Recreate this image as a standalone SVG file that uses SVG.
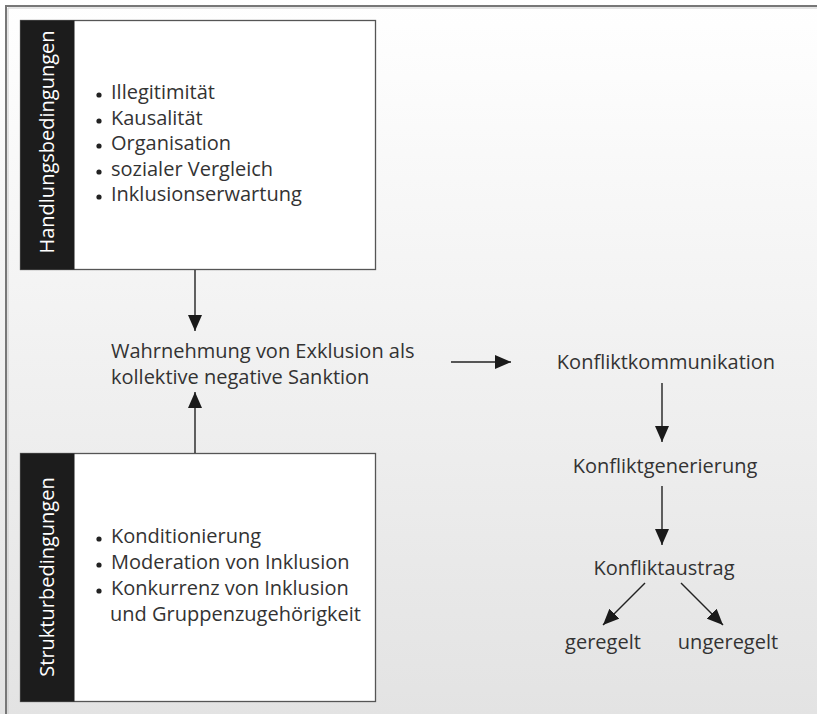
<svg xmlns="http://www.w3.org/2000/svg" width="817" height="714" viewBox="0 0 817 714">
<defs>
<linearGradient id="bg" x1="0" y1="0" x2="0" y2="1">
<stop offset="0" stop-color="#ffffff"/>
<stop offset="1" stop-color="#e3e3e3"/>
</linearGradient>
<marker id="ahl" viewBox="0 0 16 14" refX="16" refY="7" markerWidth="16" markerHeight="14" markerUnits="userSpaceOnUse" orient="auto">
<path d="M0,0 L16,7 L0,14 Z" fill="#1a1a1a"/>
</marker>
</defs>
<style>
text{font-family:"Open Sans","Noto Sans",sans-serif;fill:#333;font-size:20px}
.lbl{fill:#fff;font-size:20px}
.box{fill:#fff;stroke:#555;stroke-width:1.3}
.band{fill:#1c1c1c}
.bul{fill:#222}
.con line{stroke:#222;stroke-width:1.4}
.mid{text-anchor:middle}
</style>
<rect x="0" y="0" width="817" height="714" fill="url(#bg)"/>
<path d="M6,714 V6 H817" fill="none" stroke="#777" stroke-width="2"/>
<path d="M8,714 V8 H817" fill="none" stroke="#ccc" stroke-width="1"/>

<g id="handlungsbedingungen">
<rect class="box" x="20.5" y="20.5" width="355" height="249"/>
<rect class="band" x="20.5" y="20.5" width="54" height="249"/>
<text class="lbl mid" transform="translate(54,142) rotate(-90)">Handlungsbedingungen</text>
<circle class="bul" cx="99" cy="95" r="2.6"/>
<circle class="bul" cx="99" cy="121" r="2.6"/>
<circle class="bul" cx="99" cy="146" r="2.6"/>
<circle class="bul" cx="99" cy="172" r="2.6"/>
<circle class="bul" cx="99" cy="197" r="2.6"/>
<text x="111" y="99">Illegitimität</text>
<text x="111" y="125">Kausalität</text>
<text x="111" y="150">Organisation</text>
<text x="111" y="176">sozialer Vergleich</text>
<text x="111" y="201">Inklusionserwartung</text>
</g>

<g id="strukturbedingungen">
<rect class="box" x="20.5" y="453.5" width="355" height="248"/>
<rect class="band" x="20.5" y="453.5" width="54" height="248"/>
<text class="lbl mid" transform="translate(54,577) rotate(-90)">Strukturbedingungen</text>
<circle class="bul" cx="99" cy="539" r="2.6"/>
<circle class="bul" cx="99" cy="565" r="2.6"/>
<circle class="bul" cx="99" cy="591" r="2.6"/>
<text x="111" y="543">Konditionierung</text>
<text x="111" y="569">Moderation von Inklusion</text>
<text x="111" y="595">Konkurrenz von Inklusion</text>
<text x="110" y="621">und Gruppenzugehörigkeit</text>
</g>

<g id="wahrnehmung">
<text x="111" y="358">Wahrnehmung von Exklusion als</text>
<text x="111" y="384">kollektive negative Sanktion</text>
</g>

<g id="konfliktkommunikation"><text class="mid" x="666" y="369">Konfliktkommunikation</text></g>
<g id="konfliktgenerierung"><text class="mid" x="665" y="473">Konfliktgenerierung</text></g>
<g id="konfliktaustrag"><text class="mid" x="664" y="575">Konfliktaustrag</text></g>
<g id="geregelt"><text class="mid" x="603" y="649">geregelt</text></g>
<g id="ungeregelt"><text class="mid" x="728" y="649">ungeregelt</text></g>

<g class="con" id="connectors">
<line x1="195" y1="270" x2="195" y2="331" marker-end="url(#ahl)"/>
<line x1="195" y1="453" x2="195" y2="392" marker-end="url(#ahl)"/>
<line x1="451" y1="362" x2="511" y2="362" marker-end="url(#ahl)"/>
<line x1="662" y1="383" x2="662" y2="442" marker-end="url(#ahl)"/>
<line x1="662" y1="486" x2="662" y2="545" marker-end="url(#ahl)"/>
<line x1="645" y1="583" x2="603" y2="625" marker-end="url(#ahl)"/>
<line x1="681" y1="583" x2="723" y2="625" marker-end="url(#ahl)"/>
</g>
</svg>
